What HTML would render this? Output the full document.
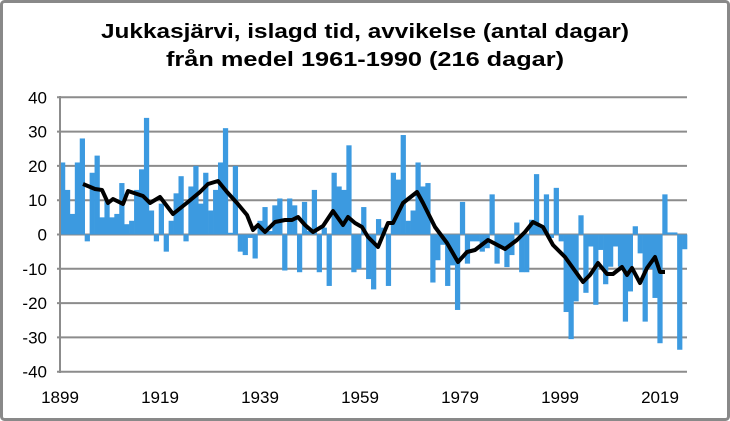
<!DOCTYPE html>
<html><head><meta charset="utf-8"><style>html,body{margin:0;padding:0;background:#fff}svg{display:block}</style></head>
<body>
<svg width="730" height="421" xmlns="http://www.w3.org/2000/svg" font-family="Liberation Sans, sans-serif">
<rect x="1.5" y="1.5" width="727" height="418" fill="#fff" stroke="#898989" stroke-width="3" rx="3"/>
<text x="365" y="38" text-anchor="middle" font-size="20" font-weight="bold" textLength="528" lengthAdjust="spacingAndGlyphs">Jukkasjärvi, islagd tid, avvikelse (antal dagar)</text>
<text x="365" y="66" text-anchor="middle" font-size="20" font-weight="bold" textLength="398" lengthAdjust="spacingAndGlyphs">från medel 1961-1990 (216 dagar)</text>
<g id="grid" stroke="#8c8c8c" stroke-width="2"></g>
<g id="bars" fill="#3c9ae0"></g>
<g id="axis" stroke="#8c8c8c" stroke-width="2"></g>
<polyline id="ma" fill="none" stroke="#000" stroke-width="4" stroke-linejoin="round" points=""/>
<g id="labels" font-size="17" fill="#000"></g>
</svg>
<script>
var NS="http://www.w3.org/2000/svg";
function Y(v){return 234.5-3.43*v;}
function el(t,a,p,txt){var e=document.createElementNS(NS,t);for(var k in a)e.setAttribute(k,a[k]);if(txt)e.textContent=txt;document.getElementById(p).appendChild(e);}
for(var v=-40;v<=40;v+=10){el('line',{x1:57,x2:687,y1:Y(v),y2:Y(v)},'grid');el('text',{x:47,y:Y(v)+6,'text-anchor':'end'},'labels',String(v));}
var d=[21,13,6,21,28,-2,18,23,5,10,5,6,15,3,4,13,19,34,7,-2,9,-5,4,12,17,-2,14,20,9,18,7,13,21,31,0.5,20,-5,-6,-1,-7,4,8,1,
8.5,10.5,-10.5,10.5,8.5,-11,9.5,1,13,-11,2,-15,18,14,13,26,-11,-10,8,-13,-16,4.5,2,-15,18,16,29,4,7,21,14,15,-14,-7.5,-3,-15,-9,-22,9.5,-8.5,-2,-2,
-5,-4,11.7,-8.5,-4,-9.5,-6,3.5,-11,-11,4.3,17.6,2,11.7,-1,13.6,-2,-22.6,-30.5,-19.5,5.6,-17,-3.5,-20.5,-4.5,-14.5,-9.4,-3.5,-9.4,-25.4,-16.6,2.4,-5.5,-25.4,-10,-18.5,-31.7,11.7,0.6,0.6,-33.6,-4.3];
var w=627/d.length;
d.forEach(function(v,i){var y0=Y(0),y1=Y(v);el('rect',{x:(60+i*w).toFixed(2),y:Math.min(y0,y1).toFixed(2),width:(w+0.3).toFixed(2),height:Math.abs(y1-y0).toFixed(2)},'bars');});
el('line',{x1:60,x2:60,y1:96,y2:373},'axis');
[1899,1919,1939,1959,1979,1999,2019].forEach(function(yr,i){el('text',{x:60+i*100,y:403,'text-anchor':'middle'},'labels',String(yr));});
var pts=[[83,184],[95,189],[102,190],[108,203],[113,199],[123,204],[128,191],[143,196],[150,203],[160,197],[173,214],[188,202],[200,192],[208,184],[218,181],[227,192],[237,203],[247,215],[253,230],[258,225],[265,232],[275,222],[285,220],[292,220],[298,217],[305,225],[313,232],[323,226],[333,211],[343,225],[348,217],[355,223],[362,227],[368,237],[378,247],[388,223],[393,223],[403,203],[417,192],[423,203],[435,227],[447,243],[458,262],[467,252],[475,250],[488,240],[505,249],[517,240],[525,232],[533,222],[543,227],[553,245],[565,257],[583,282],[590,275],[598,263],[607,274],[613,274],[622,267],[627,275],[632,268],[640,283],[647,268],[655,257],[660,272],[665,272]];
document.getElementById('ma').setAttribute('points',pts.map(function(p){return p.join(',');}).join(' '));
</script>
</body></html>
